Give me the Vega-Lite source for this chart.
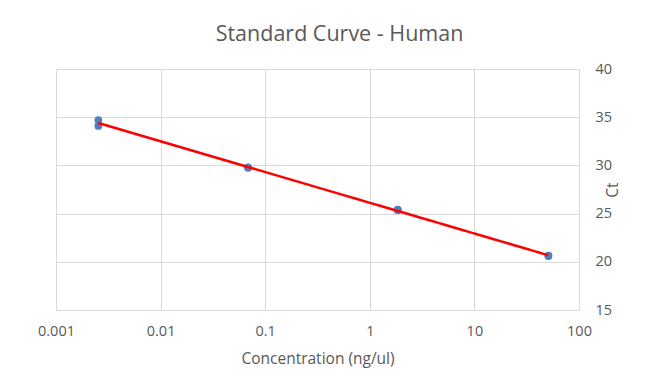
{
  "$schema": "https://vega.github.io/schema/vega-lite/v6.json",
  "autosize": "none",
  "width": 523,
  "height": 241,
  "padding": {"left": 56, "top": 69, "right": 88, "bottom": 72},
  "background": "white",
  "title": {
    "text": "Standard Curve - Human",
    "font": "Open Sans",
    "fontSize": 21.5,
    "fontWeight": "normal",
    "color": "#595959",
    "anchor": "middle",
    "offset": 16,
    "dx": 22
  },
  "data": {
    "values": [
      {"conc": 0.00254, "ct": 34.7},
      {"conc": 0.00254, "ct": 34.1},
      {"conc": 0.0686, "ct": 29.8},
      {"conc": 0.0686, "ct": 29.75},
      {"conc": 1.85, "ct": 25.4},
      {"conc": 1.85, "ct": 25.35},
      {"conc": 51, "ct": 20.65},
      {"conc": 51, "ct": 20.6}
    ]
  },
  "config": {
    "view": {"stroke": null},
    "axis": {
      "labelFont": "Open Sans",
      "labelFontSize": 14.5,
      "labelColor": "#595959",
      "titleFont": "Open Sans",
      "titleFontSize": 15.5,
      "titleFontWeight": "normal",
      "titleColor": "#595959",
      "gridColor": "#d9d9d9",
      "gridWidth": 1,
      "domain": false,
      "ticks": false
    }
  },
  "encoding": {
    "x": {
      "field": "conc",
      "type": "quantitative",
      "scale": {"type": "log", "domain": [0.001, 100], "nice": false},
      "axis": {
        "title": "Concentration (ng/ul)",
        "values": [0.001, 0.01, 0.1, 1, 10, 100],
        "format": "~g",
        "labelPadding": 14,
        "titlePadding": 14,
        "labelFlush": false
      }
    },
    "y": {
      "field": "ct",
      "type": "quantitative",
      "scale": {"domain": [15, 40], "nice": false, "zero": false},
      "axis": {
        "title": "Ct",
        "orient": "right",
        "values": [15, 20, 25, 30, 35, 40],
        "labelPadding": 16,
        "titlePadding": 9,
        "titleAngle": 270,
        "labelFlush": false
      }
    }
  },
  "layer": [
    {
      "mark": {"type": "point", "filled": true, "shape": "circle", "size": 60, "color": "#4f7fc0", "opacity": 1}
    },
    {
      "transform": [{"regression": "ct", "on": "conc", "method": "log"}],
      "mark": {"type": "line", "color": "#ff0000", "strokeWidth": 2.5}
    }
  ]
}
